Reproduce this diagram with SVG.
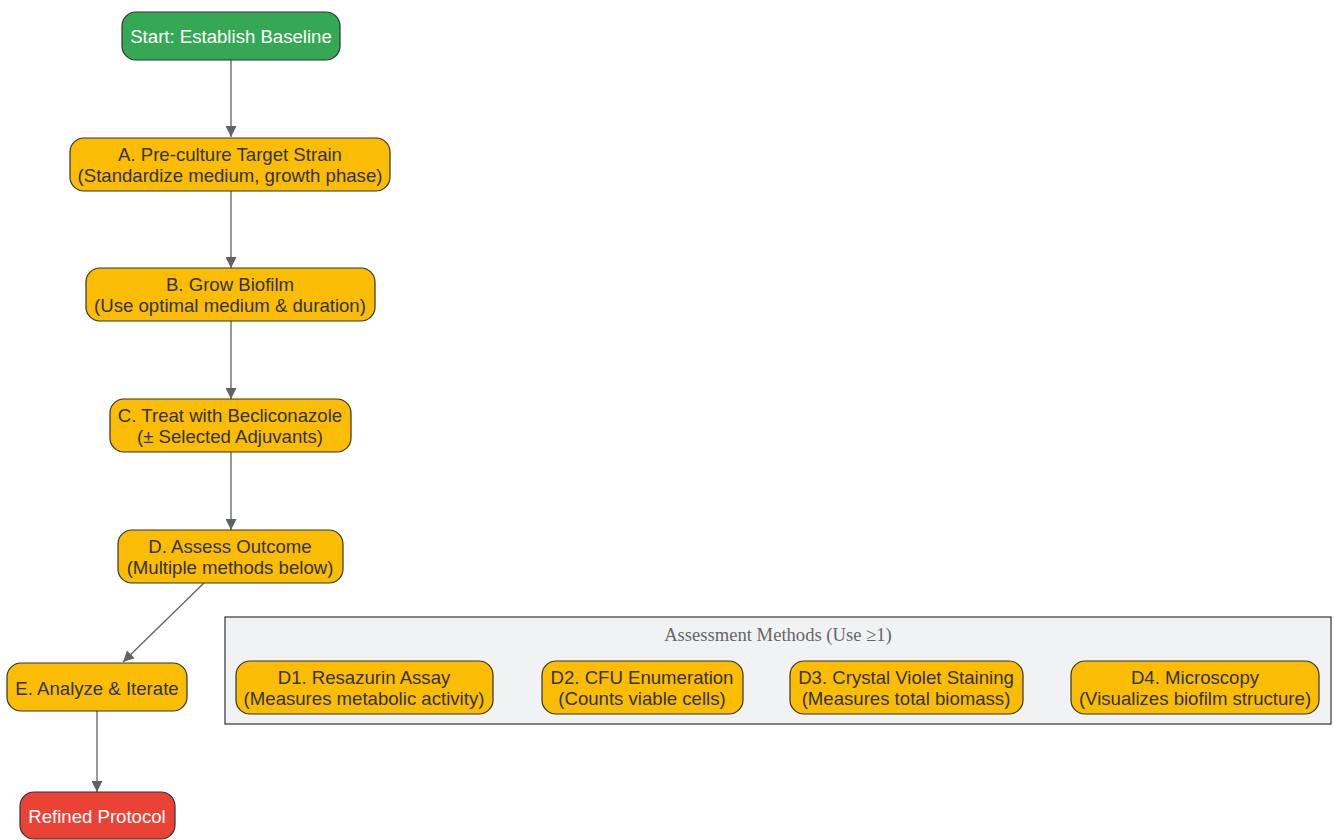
<svg xmlns="http://www.w3.org/2000/svg" width="1334" height="840" viewBox="0 0 1334 840">
<defs>
<marker id="arr" viewBox="0 0 10 10" refX="10" refY="5" markerWidth="11" markerHeight="11" markerUnits="userSpaceOnUse" orient="auto">
<path d="M0,0 L10,5 L0,10 z" fill="#5f6368"/>
</marker>
</defs>
<style>
.n{stroke:#333;stroke-width:1.2}
.y{fill:#fbbc04}
.g{fill:#34a853}
.r{fill:#ea4335}
.t{font-family:"Liberation Sans",Arial,sans-serif;font-size:18.6px;text-anchor:middle;fill:#333}
.w{fill:#fff}
.e{stroke:#5f6368;stroke-width:1.3;fill:none;marker-end:url(#arr)}
</style>
<rect width="1334" height="840" fill="#fff"/>
<g id="cluster">
<rect x="225" y="617" width="1106" height="107" fill="#f1f2f4" stroke="#333" stroke-width="1.2"/>
<text x="778" y="641" font-family="Liberation Serif,serif" font-size="18.6" fill="#666" text-anchor="middle">Assessment Methods (Use ≥1)</text>
</g>
<g id="edges">
<line class="e" x1="231" y1="60" x2="231" y2="137"/>
<line class="e" x1="231" y1="191" x2="231" y2="268"/>
<line class="e" x1="231" y1="321" x2="231" y2="399"/>
<line class="e" x1="231" y1="452" x2="231" y2="530"/>
<line class="e" x1="204" y1="583" x2="123" y2="662"/>
<line class="e" x1="97" y1="711" x2="97" y2="792"/>
</g>
<g id="start">
<rect class="n g" x="122" y="12" width="218" height="48" rx="14"/>
<text class="t w" x="231" y="43">Start: Establish Baseline</text>
</g>
<g id="A">
<rect class="n y" x="70" y="138" width="320" height="53" rx="14"/>
<text class="t" x="230" y="161">A. Pre-culture Target Strain</text>
<text class="t" x="230" y="182">(Standardize medium, growth phase)</text>
</g>
<g id="B">
<rect class="n y" x="86" y="268" width="289" height="53" rx="14"/>
<text class="t" x="230" y="291">B. Grow Biofilm</text>
<text class="t" x="230" y="312">(Use optimal medium &amp; duration)</text>
</g>
<g id="C">
<rect class="n y" x="110" y="399" width="241" height="53" rx="14"/>
<text class="t" x="230" y="422">C. Treat with Becliconazole</text>
<text class="t" x="230" y="443">(± Selected Adjuvants)</text>
</g>
<g id="D">
<rect class="n y" x="118" y="530" width="225" height="53" rx="14"/>
<text class="t" x="230" y="553">D. Assess Outcome</text>
<text class="t" x="230" y="574">(Multiple methods below)</text>
</g>
<g id="E">
<rect class="n y" x="7" y="663" width="180" height="48" rx="14"/>
<text class="t" x="97" y="695">E. Analyze &amp; Iterate</text>
</g>
<g id="refined">
<rect class="n r" x="20" y="792" width="155" height="47" rx="14"/>
<text class="t w" x="97" y="823">Refined Protocol</text>
</g>
<g id="D1">
<rect class="n y" x="236" y="661" width="257" height="53" rx="14"/>
<text class="t" x="364" y="684">D1. Resazurin Assay</text>
<text class="t" x="364" y="705">(Measures metabolic activity)</text>
</g>
<g id="D2">
<rect class="n y" x="542" y="661" width="201" height="53" rx="14"/>
<text class="t" x="642" y="684">D2. CFU Enumeration</text>
<text class="t" x="642" y="705">(Counts viable cells)</text>
</g>
<g id="D3">
<rect class="n y" x="790" y="661" width="233" height="53" rx="14"/>
<text class="t" x="906" y="684">D3. Crystal Violet Staining</text>
<text class="t" x="906" y="705">(Measures total biomass)</text>
</g>
<g id="D4">
<rect class="n y" x="1071" y="661" width="248" height="53" rx="14"/>
<text class="t" x="1195" y="684">D4. Microscopy</text>
<text class="t" x="1195" y="705">(Visualizes biofilm structure)</text>
</g>
</svg>
